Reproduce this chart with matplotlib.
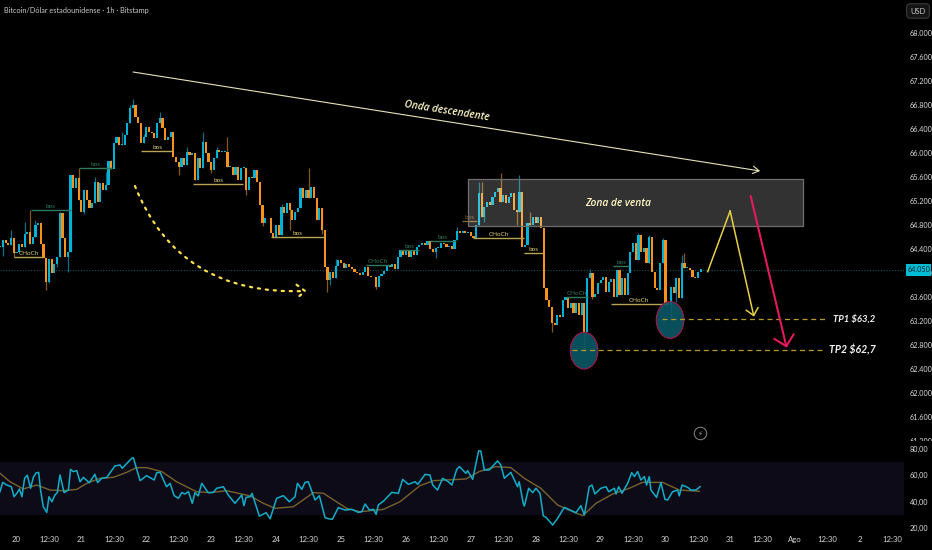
import matplotlib
matplotlib.use("Agg")
import matplotlib.pyplot as plt
from matplotlib.patches import Rectangle, Ellipse, FancyArrowPatch
from matplotlib.path import Path
from matplotlib.transforms import Bbox, TransformedBbox

NARROW = ['Lato', 'Roboto', 'DejaVu Sans']

title = "Bitcoin/Dólar estadounidense · 1h · Bitstamp"
first_hour = -6
closes = [
64440,64550,64505,64465,64580,64330,64355,64485,64440,64650,64690,64485,64605,64800,64840,64485,64245,63855,64230,64005,
64150,64270,64995,64580,64270,64355,65635,65410,65580,65215,65020,65380,65215,65075,65160,65520,65190,65495,65385,65470,
65870,65730,66160,66270,66130,66130,66300,66495,66745,66800,66605,66495,66160,66270,66440,66355,66330,66245,66505,66580,
66410,66215,66270,66355,65940,65855,65770,65910,65800,66020,65965,65995,65550,65910,65745,66190,65995,65855,65715,65910,
66050,66020,66020,66020,65770,65770,65635,65770,65550,65745,65745,65385,65605,65580,65715,65520,65135,64830,64910,64910,
64660,64605,64800,64635,65105,64995,65160,65050,64885,65020,65075,65410,65245,65385,65245,65440,65245,64885,65080,64716,
64105,63883,64022,63911,64116,64216,64172,64077,64150,64094,64072,64022,63994,63966,64022,64094,63950,63938,63927,63772,
63955,63983,64038,64127,64094,64150,64061,64272,64383,64300,64372,64272,64372,64300,64438,64466,64494,64466,64533,64394,
64355,64411,64411,64494,64483,64427,64450,64394,64549,64705,64661,64705,64661,64688,64616,64577,64800,65327,64938,65105,
65188,65133,65272,65355,65411,65188,65300,65161,65272,65327,65050,65022,65355,64438,64466,64827,64800,64938,64827,64927,
64744,63744,63550,63438,63161,63133,63300,63272,63550,63594,63411,63494,63327,63505,63300,63494,63022,63911,63994,63605,
63650,63827,63883,63938,63688,63855,63894,63605,64050,63634,63911,63634,63995,64356,64495,64217,64634,64356,64411,64161,
64606,64022,63745,63717,64161,64550,63495,63467,63772,63661,63911,63578,64161,64078,64078,64050,63939,63911,64022,64061,
]
highs = {4:64717,9:64855,11:65050,13:64880,22:65020,26:65640,29:65745,35:65600,39:65690,41:65883,45:66355,48:66800,49:66895,
         53:66320,59:66689,63:66355,69:66105,72:66000,75:66355,80:66105,84:66272,97:65000,104:65150,111:65440,114:65744,
         124:64240,169:64770,177:65522,178:65522,185:65661,192:65633,196:65022,218:64060,236:64660,240:64640,245:64578,
         252:64300,253:64328}
lows = {1:64280,5:64270,17:63716,18:63830,21:64100,25:64022,31:64985,66:65640,78:65661,91:65300,97:64780,107:64717,
        119:64650,121:63688,122:63800,139:63740,161:64244,179:64855,191:64800,204:63022,216:62688,219:63560,248:63217,250:63522}

rsi_hours = [-6.1,-5.1,-3.6,-1.9,-0.9,0.3,1.1,2.0,3.0,4.0,5.2,6.2,7.2,8.2,8.9,9.9,11.2,12.0,13.1,14.2,15.1,16.1,17.6,19.2,20.0,21.0,22.3,23.5,24.7,26.9,29.0,30.0,31.5,33.4,36.4,38.3,39.1,42.6,43.2,45.7,48.1,50.9,51.9,53.1,55.5,56.8,58.3,59.9,61.1,62.3,63.6,65.0,66.0,67.2,68.5,70.9,72.8,74.0,76.5,78.3,80.8,83.3,84.1,84.9,86.4,87.1,89.8,91.3,92.3,93.8,96.2,98.7,100.9,103.0,103.9,105.5,106.7,107.9,110.4,112.0,114.1,115.3,116.8,119.0,121.5,124.0,126.4,127.7,128.9,130.5,132.0,133.0,133.8,135.7,138.8,141.2,142.8,144.9,147.4,148.4,151.1,152.9,153.9,155.7,157.6,159.7,161.0,162.8,163.8,166.2,166.8,168.7,170.9,171.7,173.0,174.8,177.9,179.1,180.4,182.8,185.3,185.9,187.4,187.8,189.4,190.9,192.1,193.6,194.8,195.8,198.3,200.1,202.6,206.9,208.7,210.0,211.8,212.8,213.9,216.1,218.0,219.0,221.1,221.7,222.7,223.9,226.0,227.5,228.5,229.7,230.9,232.2,233.0,234.0,234.6,236.7,238.3,239.8,240.8,242.6,244.5,245.1,246.1,248.2,249.4,251.3,252.8]
rsi_values = [47.5,54.6,52.6,51.3,43.7,46.8,49.6,43.7,57.7,60.0,50.1,58.4,61.7,62.2,48.8,36.1,31.8,43.7,39.9,45.0,46.8,60.2,46.8,48.8,64.5,62.8,63.5,55.1,58.4,54.4,60.7,54.4,57.7,58.4,67.1,67.8,65.3,72.9,73.4,55.9,59.7,56.4,62.0,62.2,51.3,53.9,44.5,42.5,46.8,45.8,47.5,38.7,46.8,44.3,53.9,46.8,47.0,50.1,51.3,45.0,38.7,45.0,36.9,43.2,43.7,46.3,29.0,30.5,31.6,27.0,42.5,44.5,39.9,43.7,53.9,49.3,54.6,55.1,41.2,44.5,27.8,27.0,26.5,35.4,33.6,34.1,31.8,32.3,38.2,33.6,34.1,30.3,37.4,40.4,47.0,46.3,56.9,53.1,55.1,53.1,60.7,60.2,52.6,48.8,57.7,55.1,52.6,64.5,66.6,61.5,63.5,56.9,78.5,78.5,64.0,64.0,70.9,67.8,57.7,62.2,51.3,55.1,38.7,36.6,50.1,46.8,50.1,46.3,29.1,28.1,22.2,27.3,35.6,31.6,36.9,29.8,51.3,52.6,45.8,50.1,51.3,47.5,50.1,45.8,51.3,46.3,53.9,62.0,59.0,62.8,56.4,59.0,52.6,59.0,48.8,43.2,54.4,41.7,41.2,47.5,48.8,44.3,52.6,50.8,48.8,48.8,51.3]
ma_hours = [-6.1,-2.4,2.5,7.5,12.4,17.3,22.3,26.0,30.9,35.8,40.7,44.4,48.1,53.7,59.2,66.6,71.6,77.7,86.4,91.3,95.6,102.4,109.8,113.5,122.1,127.0,135.7,141.9,149.2,154.2,166.2,171.1,177.3,182.8,187.8,193.9,200.1,205.7,209.4,214.3,220.5,226.6,231.5,238.9,245.1,252.5]
ma_values = [61.5,55.1,49.6,52.6,48.8,48.3,49.3,53.9,57.7,58.4,62.2,65.8,65.8,62.8,55.1,47.5,46.8,48.3,44.3,38.7,34.9,36.1,46.8,46.3,34.9,32.3,34.1,40.0,52.1,55.9,57.2,62.8,66.6,65.8,57.7,50.1,37.4,32.3,29.3,38.7,45.8,50.1,54.6,54.6,48.8,47.8]

price_ticks = [68000,67600,67200,66800,66400,66000,65600,65200,64800,64400,64000,63600,63200,62800,62400,62000,61600,61200]
price_labels = ["68.000","67.600","67.200","66.800","66.400","66.000","65.600","65.200","64.800","64.400","64.000","63.600","63.200","62.800","62.400","62.000","61.600","61.200"]
rsi_ticks = [20,40,60,80]
rsi_labels = ["20,00","40,00","60,00","80,00"]
day_labels = ["20","21","22","23","24","25","26","27","28","29","30","31","Ago","2"]

# label, start hour, end hour, price, kind
structures = [
 ("CHoCh",-0.9,9.9,64262,"y"),("bos",5.2,20.0,65045,"g"),("bos",23.1,35.2,65745,"g"),("bos",46.0,58.0,66028,"y"),
 ("bos",65.2,83.9,65483,"y"),("bos",94.0,114.2,64595,"y"),("CHoCh",129.1,138.1,64138,"g"),("bos",141.8,149.0,64383,"g"),
 ("bos",152.9,162.5,64533,"g"),("bos",164.9,170.2,64872,"b"),("CHoCh",168.9,187.7,64583,"y"),("bos",187.8,194.8,64333,"y"),
 ("CHoCh",203.1,211.5,63595,"g"),("bos",220.7,226.6,64117,"g"),("CHoCh",219.7,240.7,63483,"y"),
]
kind_colors = {"y":"#b8a452","g":"#2f7a5c","b":"#8a6428"}
last_price = 64050

UP, DOWN = "#00b2d6", "#f7931a"
UPW, DOWNW = "#0c6f82", "#86591a"

fig = plt.figure(figsize=(9.32,5.5),dpi=100,facecolor="black")
ax = fig.add_axes([0,105/550,904/932,445/550],facecolor="black")
rx = fig.add_axes([0,18/550,904/932,87/550],facecolor="black")
xlim = (-6.1,328.2)
ax.set_xlim(*xlim); ax.set_ylim(61133,68550)
rx.set_xlim(*xlim); rx.set_ylim(16.9,83)

for a in (ax,rx):
    for s in a.spines.values(): s.set_visible(False)

prev = closes[0]
for i,c in enumerate(closes):
    h = first_hour+i
    up = c>=prev
    top,bot = max(prev,c),min(prev,c)
    hi = highs.get(i,top); lo = lows.get(i,bot)
    if hi>top or lo<bot:
        ax.vlines(h,lo,hi,color=UPW if up else DOWNW,lw=0.9,zorder=2)
    ax.bar(h,max(top-bot,14),bottom=bot,width=0.8,color=UP if up else DOWN,lw=0,zorder=3)
    prev = c

ax.axhline(last_price,color="#0d5560",lw=0.8,ls=(0,(1,1.5)),zorder=1)

for label,h0,h1,p,k in structures:
    col = kind_colors[k]
    ax.plot([h0,h1],[p,p],color=col,lw=1.0,zorder=4,solid_capstyle="butt")
    ax.text((h0+h1)/2,p+15,label,ha="center",va="bottom",fontsize=4.6,color=col if k!="y" else "#e0cf70",family=NARROW,zorder=5)

# sell zone
ax.add_patch(Rectangle((166.8,64783),124.1,784,facecolor=(1,1,1,0.2),edgecolor="#6f6f6f",lw=0.9,zorder=6))
ax.text(222.5,65150,"Zona de venta",ha="center",va="center",fontsize=7.4,style="italic",fontweight="semibold",family="Open Sans",color="#fdf6c3",zorder=8)

# trend line
ax.add_patch(FancyArrowPatch((43.1,67350),(275,65700),arrowstyle="->,head_length=0.5,head_width=0.3",mutation_scale=9,color="#e6e2b6",lw=0.8,shrinkA=0,shrinkB=0,zorder=7))
ax.text(159.2,66700,"Onda descendente",ha="center",va="center",rotation=-9,rotation_mode="anchor",fontsize=7.3,style="italic",fontweight="semibold",family="Open Sans",color="#fdf6c3",zorder=8)

# dotted curve
curve = Path([(43.8,65450),(60.1,63617),(107.4,63700)],[Path.MOVETO,Path.CURVE3,Path.CURVE3])
ax.add_patch(FancyArrowPatch(path=curve,arrowstyle="->,head_length=0.5,head_width=0.4",mutation_scale=12,color="#ffe14d",lw=1.6,ls=(0,(1,2.6)),zorder=7))

# circles
for hc,pc in ((209.9,62705),(241.7,63217)):
    ax.add_patch(Ellipse((hc,pc),10.2,612,facecolor=(0.04,0.34,0.40,0.9),edgecolor="#a8174f",lw=0.8,zorder=6))

# TP lines
ax.plot([238.6,300.1],[63228,63228],color="#b89a2a",lw=0.9,ls=(0,(4,3)),zorder=7)
ax.plot([205.3,299.0],[62712,62712],color="#b89a2a",lw=0.9,ls=(0,(4,3)),zorder=7)
ax.text(301.9,63228,"TP1 $63,2",ha="left",va="center",fontsize=6.8,style="italic",fontweight="bold",family=NARROW,color="#f4f4f4",zorder=8)
ax.text(300.5,62712,"TP2 $62,7",ha="left",va="center",fontsize=7.6,style="italic",fontweight="bold",family=NARROW,color="#f4f4f4",zorder=8)

# projected moves
ax.plot([255.6,263.9],[64022,65033],color="#e6cf45",lw=1.1,zorder=8)
ax.add_patch(FancyArrowPatch((263.9,65033),(272.7,63272),arrowstyle="->,head_length=0.45,head_width=0.4",mutation_scale=11,color="#e6cf45",lw=1.1,shrinkA=0,shrinkB=0,zorder=8))
ax.add_patch(FancyArrowPatch((271.5,65283),(284.8,62755),arrowstyle="->,head_length=0.45,head_width=0.45",mutation_scale=16,color="#e5195f",lw=1.5,shrinkA=0,shrinkB=0,zorder=8))

# icon
ax.plot([252.8],[61325],marker="o",ms=9,mfc="black",mec="#8a8a8a",mew=0.7,zorder=8)
ax.text(252.8,61325,"\u26a1",ha="center",va="center",fontsize=5,color="#a0a0a0",family="DejaVu Sans",zorder=9)

# price axis
ax.yaxis.tick_right()
ax.set_yticks(price_ticks); ax.set_yticklabels(price_labels)
ax.tick_params(axis="y",length=0,pad=4,labelsize=5.2,labelcolor="#dedede")
ax.set_xticks([])
for t in ax.get_yticklabels():
    t.set_family(NARROW)
    if t.get_text()=="61.200":
        t.set_clip_on(True)
        t.set_clip_box(TransformedBbox(Bbox([[0.9,(550-441)/550],[1,0.3]]),fig.transFigure))

# last price tag
tr = ax.get_yaxis_transform()
ax.add_patch(Rectangle((1.002,last_price-100),0.028,200,transform=tr,facecolor="#00bcd4",edgecolor="none",clip_on=False,zorder=9))
ax.text(1.0165,last_price,"64.050",transform=tr,ha="center",va="center",fontsize=5.2,color="#06222a",family=NARROW,clip_on=False,zorder=10)

# title and currency
fig.text(4/932,1-10/550,title,ha="left",va="center",fontsize=5.3,color="#c9c9c9",family=NARROW)
fig.text(918/932,1-11/550,"USD",ha="center",va="center",fontsize=5.4,color="#c9c9c9",family=NARROW,
         bbox=dict(boxstyle="round,pad=0.5",fc="#141414",ec="#3a3a3a",lw=0.8))

# RSI
rx.axhspan(30,70,color="#0e0b18",lw=0,zorder=1)
rx.plot(ma_hours,ma_values,color="#77622f",lw=1.0,zorder=2)
rx.plot(rsi_hours,rsi_values,color="#12aec8",lw=1.1,zorder=3)
rx.yaxis.tick_right()
rx.set_yticks(rsi_ticks); rx.set_yticklabels(rsi_labels)
rx.tick_params(axis="y",length=0,pad=4,labelsize=5.2,labelcolor="#dedede")
xt,xl = [],[]
for i,d in enumerate(day_labels):
    xt += [24*i,24*i+12]; xl += [d,"12:30"]
rx.set_xticks(xt); rx.set_xticklabels(xl)
rx.tick_params(axis="x",length=0,pad=3,labelsize=5.6,labelcolor="#d8d8d8")
for t in rx.get_yticklabels()+rx.get_xticklabels():
    t.set_family(NARROW)

fig.savefig("out.png",dpi=100,facecolor="black")
